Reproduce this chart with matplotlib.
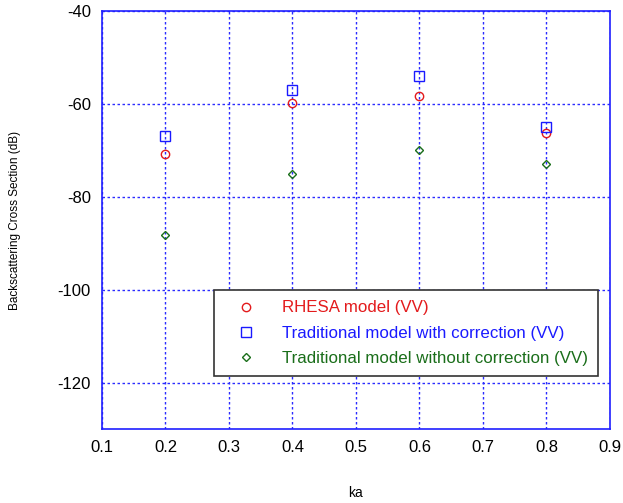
import numpy as np
from matplotlib import pyplot as plt

ka = [0.2, 0.4, 0.6, 0.8]
rhesa = [-70.7, -59.8, -58.3, -66.2]
trad_corr = [-66.9, -57.0, -54.0, -65.0]
trad_nocorr = [-88.2, -75.1, -69.9, -72.9]

xticks = [0.1, 0.2, 0.3, 0.4, 0.5, 0.6, 0.7, 0.8, 0.9]
yticks = [-120, -100, -80, -60, -40]

plt.rcParams['font.family'] = ['Arial', 'Liberation Sans', 'DejaVu Sans']
plt.rcParams['axes.unicode_minus'] = False

fig = plt.figure(figsize=(6.23, 5.03), dpi=100)
ax = fig.add_axes([0.1637, 0.147, 0.8154, 0.831])

ax.plot(ka, rhesa, linestyle='none', marker='o', ms=6, mfc='none', mec='#e31a1c', mew=1.0,
        label='RHESA model (VV)')
ax.plot(ka, trad_corr, linestyle='none', marker='s', ms=6.5, mfc='none', mec='#1a1aff', mew=1.0,
        label='Traditional model with correction (VV)')
ax.plot(ka, trad_nocorr, linestyle='none', marker='D', ms=4.5, mfc='none', mec='#1a6e1a', mew=1.0,
        label='Traditional model without correction (VV)')

ax.set_xlim(0.1, 0.9)
ax.set_ylim(-130, -40)
ax.set_xticks(xticks)
ax.set_xticklabels(['{:.1f}'.format(v) for v in xticks])
ax.set_yticks(yticks)
ax.tick_params(length=0, labelsize=12, pad=8)
ax.grid(True, color='#2b2bff', linestyle=(0, (1.8, 1.8)), linewidth=1.0)
for s in ax.spines.values():
    s.set_color('#1f1fff')
    s.set_linewidth(1.2)

ax.set_xlabel('ka', fontsize=10, labelpad=22)
ax.set_ylabel('Backscattering Cross Section (dB)', fontsize=8.5, labelpad=26)

leg = ax.legend(loc='lower right', bbox_to_anchor=(0.976, 0.127), borderaxespad=0,
                fontsize=12.2, frameon=True, fancybox=False, edgecolor='#333333',
                framealpha=1, handletextpad=0.8, handlelength=2.6, borderpad=0.6,
                labelspacing=0.6)
leg.get_frame().set_linewidth(1.2)
for t, c in zip(leg.get_texts(), ['#e31a1c', '#1a1aff', '#1a6e1a']):
    t.set_color(c)

plt.savefig('out.png', dpi=100)
